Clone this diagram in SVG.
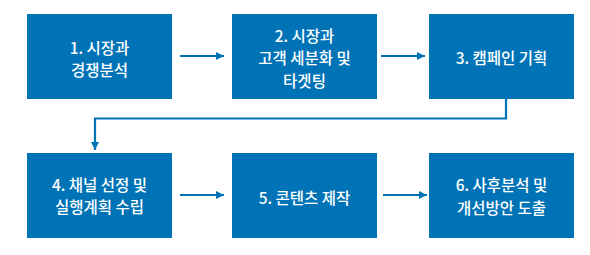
<svg xmlns="http://www.w3.org/2000/svg" width="590" height="255" viewBox="0 0 590 255">
<style>
.box{fill:#0073b7}
.t{font-family:"Noto Sans CJK KR","Noto Sans",sans-serif;font-size:15.5px;font-weight:500;fill:#ffffff;text-anchor:middle;dominant-baseline:central}
.c{fill:none;stroke:#0073b7;stroke-width:2.2}
</style>
<defs>
<marker id="ah" viewBox="0 0 10 10" refX="10" refY="5" markerWidth="8" markerHeight="8" markerUnits="userSpaceOnUse" orient="auto"><path d="M0,0 L10,5 L0,10 z" fill="#0073b7"/></marker>
</defs>
<rect width="590" height="255" fill="#ffffff"/>
<g id="n1"><rect class="box" x="27" y="14" width="145" height="85"/><text class="t" x="99.5" y="46.5">1. 시장과</text><text class="t" x="99.5" y="69">경쟁분석</text></g>
<g id="n2"><rect class="box" x="232" y="14" width="145" height="85"/><text class="t" x="304.5" y="34.5">2. 시장과</text><text class="t" x="304.5" y="57">고객 세분화 및</text><text class="t" x="304.5" y="79.5">타겟팅</text></g>
<g id="n3"><rect class="box" x="429" y="14" width="145" height="85"/><text class="t" x="501.5" y="57">3. 캠페인 기획</text></g>
<g id="n4"><rect class="box" x="27" y="153" width="145" height="85"/><text class="t" x="99.5" y="183.5">4. 채널 선정 및</text><text class="t" x="99.5" y="206">실행계획 수립</text></g>
<g id="n5"><rect class="box" x="232" y="153" width="145" height="85"/><text class="t" x="304.5" y="196.5">5. 콘텐츠 제작</text></g>
<g id="n6"><rect class="box" x="429" y="153" width="145" height="85"/><text class="t" x="501.5" y="184">6. 사후분석 및</text><text class="t" x="501.5" y="206.5">개선방안 도출</text></g>
<g id="connectors">
<path class="c" d="M180,56 H224" marker-end="url(#ah)"/>
<path class="c" d="M381,56 H425" marker-end="url(#ah)"/>
<path class="c" d="M506,99 V118.5 H95 V150" marker-end="url(#ah)"/>
<path class="c" d="M180,195 H224" marker-end="url(#ah)"/>
<path class="c" d="M383,195 H427" marker-end="url(#ah)"/>
</g>
</svg>
